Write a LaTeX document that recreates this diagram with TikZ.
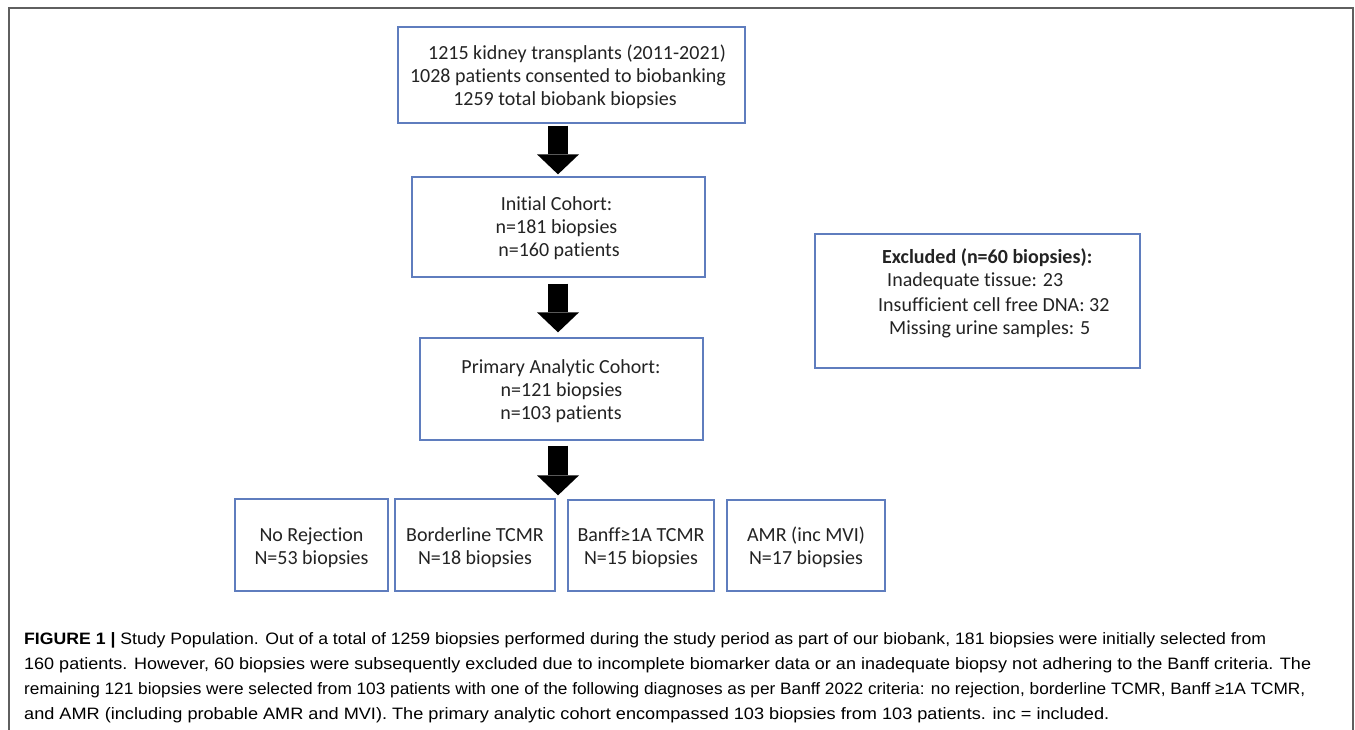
\documentclass[tikz,border=0pt]{standalone}
\usepackage{fontspec}
\usepackage{graphicx}
\setmainfont{Carlito}[Ligatures={NoCommon}]
\newfontfamily\capfont{Liberation Sans}
\usetikzlibrary{arrows.meta,calc}
\definecolor{boxblue}{RGB}{95,125,190}
\definecolor{framegray}{RGB}{95,95,95}
\definecolor{txtgray}{RGB}{35,35,35}
\begin{document}
\begin{tikzpicture}[x=1pt,y=-1pt,
  flowbox/.style={draw=boxblue, line width=1.3pt, fill=white, inner sep=0pt},
  txt/.style={font=\fontsize{20}{23}\selectfont, text=txtgray, inner sep=0pt, anchor=base},
  txtl/.style={txt, anchor=base west},
  captxt/.style={font=\capfont\fontsize{16.5}{23}\selectfont, text=black, inner sep=0pt, anchor=base west},
  blockarrow/.style={line width=20pt, -{Triangle[length=20pt,width=42pt,line width=0pt]}}
  ]
\useasboundingbox (0,0) rectangle (1355,730);
\draw[framegray, line width=2pt] (9,731) -- (9,8) -- (1353,8) -- (1353,731);

\coordinate (ax) at (558,0);

% top box
\node[flowbox, minimum width=347pt, minimum height=96pt] (b1) at (571.5,75) {};
\node[txt] (b1a) at (577,60) {1215 kidney transplants (2011-2021)};
\node[txt] (b1b) at (568,83) {1028 patients consented to biobanking};
\node[txt] (b1c) at (565,106) {1259 total biobank biopsies};

% initial cohort
\node[flowbox, minimum width=293pt, minimum height=100pt] (b2) at (558.5,227) {};
\node[txt] (b2a) at (556.5,211) {Initial Cohort:};
\node[txt] (b2b) at (556.5,234) {n=181 biopsies};
\node[txt] (b2c) at (559,257) {n=160 patients};

% primary analytic cohort
\node[flowbox, minimum width=283pt, minimum height=102pt] (b3) at (561.5,389) {};
\node[txt] (b3a) at (561,373) {Primary Analytic Cohort:};
\node[txt] (b3b) at (561.5,396) {n=121 biopsies};
\node[txt] (b3c) at (561,419) {n=103 patients};

% excluded
\node[flowbox, minimum width=325pt, minimum height=134pt] (ex) at (977.5,301) {};
\node[txtl, font=\fontsize{20}{23}\selectfont\bfseries] (exa) at (882,264) {Excluded (n=60 biopsies):};
\node[txtl] (exb) at (887,287) {Inadequate tissue: 23};
\node[txtl] (exc) at (878,311) {Insufficient cell free DNA: 32};
\node[txtl] (exd) at (889,334) {Missing urine samples: 5};

% bottom boxes
\node[flowbox, minimum width=153pt, minimum height=92pt] (bA) at (311.5,545) {};
\node[txt] (bAa) at (311.5,541) {No Rejection};
\node[txt] (bAb) at (311.5,564) {N=53 biopsies};
\node[flowbox, minimum width=160pt, minimum height=92pt] (bB) at (475,545) {};
\node[txt] (bBa) at (475,541) {Borderline TCMR};
\node[txt] (bBb) at (475,564) {N=18 biopsies};
\node[flowbox, minimum width=146pt, minimum height=91pt] (bC) at (641,545.5) {};
\node[txt] (bCa) at (641,541) {Banff≥1A TCMR};
\node[txt] (bCb) at (641,564) {N=15 biopsies};
\node[flowbox, minimum width=158pt, minimum height=91pt] (bD) at (806,545.5) {};
\node[txt] (bDa) at (806,541) {AMR (inc MVI)};
\node[txt] (bDb) at (806,564) {N=17 biopsies};

% block arrows
\draw[blockarrow] ($(b1.south -| ax)+(0,2)$) -- ($(b2.north -| ax)+(0,-2)$);
\draw[blockarrow] ($(b2.south -| ax)+(0,6)$) -- ($(b3.north -| ax)+(0,-5)$);
\draw[blockarrow] ($(b3.south -| ax)+(0,5)$) -- ($(bB.north -| ax)+(0,-3)$);

% caption
\node[captxt] (c1) at (24,644) {\resizebox{1242pt}{\height}{\textbf{FIGURE 1 |} Study Population. Out of a total of 1259 biopsies performed during the study period as part of our biobank, 181 biopsies were initially selected from}};
\node[captxt] (c2) at (24,669) {\resizebox{1287pt}{\height}{160 patients. However, 60 biopsies were subsequently excluded due to incomplete biomarker data or an inadequate biopsy not adhering to the Banff criteria. The}};
\node[captxt] (c3) at (24,694) {\resizebox{1281pt}{\height}{remaining 121 biopsies were selected from 103 patients with one of the following diagnoses as per Banff 2022 criteria: no rejection, borderline TCMR, Banff ≥1A TCMR,}};
\node[captxt] (c4) at (24,719) {\resizebox{1085pt}{\height}{and AMR (including probable AMR and MVI). The primary analytic cohort encompassed 103 biopsies from 103 patients. inc = included.}};
\end{tikzpicture}
\end{document}
